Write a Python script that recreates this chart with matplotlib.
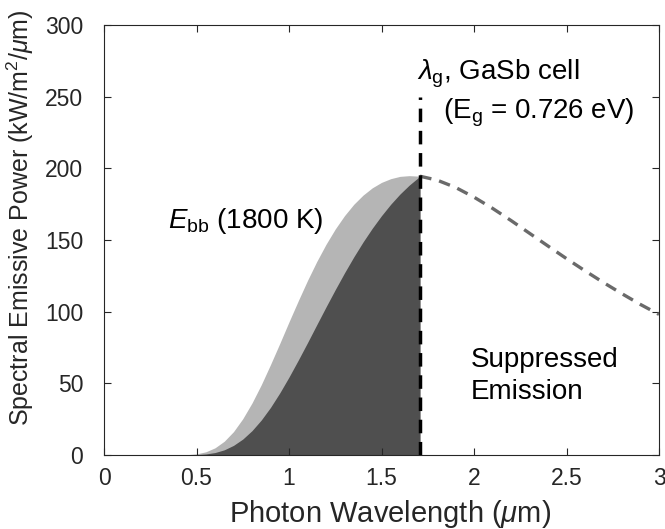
import matplotlib
matplotlib.use("Agg")
import matplotlib.pyplot as plt

# (kW/m^2/um vs um)
lam = [0.40, 0.45, 0.50, 0.55, 0.60, 0.65, 0.70, 0.75, 0.80, 0.85, 0.90, 0.95,
       1.00, 1.05, 1.10, 1.15, 1.20, 1.25, 1.30, 1.35, 1.40, 1.45, 1.50, 1.55,
       1.60, 1.65, 1.708]
e_bb = [0.04, 0.22, 0.80, 2.2, 5.0, 9.6, 16.3, 25.3, 36.3, 49.0, 63.1, 77.8,
        92.9, 107.6, 121.8, 135.0, 147.0, 157.7, 167.0, 174.9, 181.3, 186.4,
        190.2, 192.8, 194.4, 194.9, 194.5]
e_used = [0.01, 0.06, 0.23, 0.7, 1.7, 3.6, 6.7, 11.1, 17.0, 24.4, 33.2, 43.3,
          54.4, 66.2, 78.4, 90.9, 103.3, 115.4, 127.1, 138.2, 148.6, 158.2,
          167.0, 175.0, 182.1, 188.3, 194.5]

lam_tail = [1.708, 1.80, 1.90, 2.00, 2.10, 2.20, 2.30, 2.40, 2.50, 2.60, 2.70,
            2.80, 2.90, 3.00]
e_tail = [194.5, 191.8, 186.7, 179.9, 172.1, 163.6, 154.7, 145.8, 137.0, 128.5,
          120.3, 112.5, 105.0, 98.1]

lam_g = 1.708
cut_top = 250

plt.rcParams["font.family"] = ["Liberation Sans", "DejaVu Sans"]
plt.rcParams["mathtext.fontset"] = "custom"
plt.rcParams["mathtext.rm"] = "Liberation Sans"
plt.rcParams["mathtext.it"] = "Liberation Sans:italic"

fig = plt.figure(figsize=(6.65, 5.29), dpi=100)
ax = fig.add_axes([0.1564, 0.1399, 0.8346, 0.8128])

ax.fill_between(lam, e_bb, color="#b5b5b5", lw=0)
ax.fill_between(lam, e_used, color="#4f4f4f", lw=0)
ax.plot(lam_tail, e_tail, color="#6a6a6a", lw=2.4, dashes=(3.5, 2.4))
ax.plot([lam_g, lam_g], [0, cut_top], color="black", lw=2.5, dashes=(3.9, 2.5))

ax.text(0.345, 163, r"$E_{\rm bb}$ (1800 K)", fontsize=20, va="center")
ax.text(1.69, 266, r"$\lambda_{\rm g}$, GaSb cell", fontsize=20, va="center")
ax.text(1.83, 239, r"(E$_{\rm g}$ = 0.726 eV)", fontsize=20, va="center")
ax.text(1.98, 55, "Suppressed\nEmission", fontsize=20, va="center",
        linespacing=1.3)

ax.set_xlim(0, 3)
ax.set_ylim(0, 300)
ax.set_xticks([0, 0.5, 1, 1.5, 2, 2.5, 3])
ax.set_xticklabels(["0", "0.5", "1", "1.5", "2", "2.5", "3"])
ax.set_yticks([0, 50, 100, 150, 200, 250, 300])
ax.tick_params(direction="in", length=5, width=0.8, colors="#262626",
               labelsize=16.5, top=True, right=True)
ax.tick_params(axis="x", pad=9)
ax.tick_params(axis="y", pad=15)
for s in ax.spines.values():
    s.set_color("#262626")
    s.set_linewidth(0.8)

ax.set_xlabel(r"Photon Wavelength ($\mu$m)", fontsize=21, color="#262626")
ax.xaxis.set_label_coords(0.515, -0.10)
ax.set_ylabel(r"Spectral Emissive Power (kW/m$^2$/$\mu$m)", fontsize=18,
              color="#262626")
ax.yaxis.set_label_coords(-0.123, 0.552)

fig.savefig("out.png", dpi=100)
